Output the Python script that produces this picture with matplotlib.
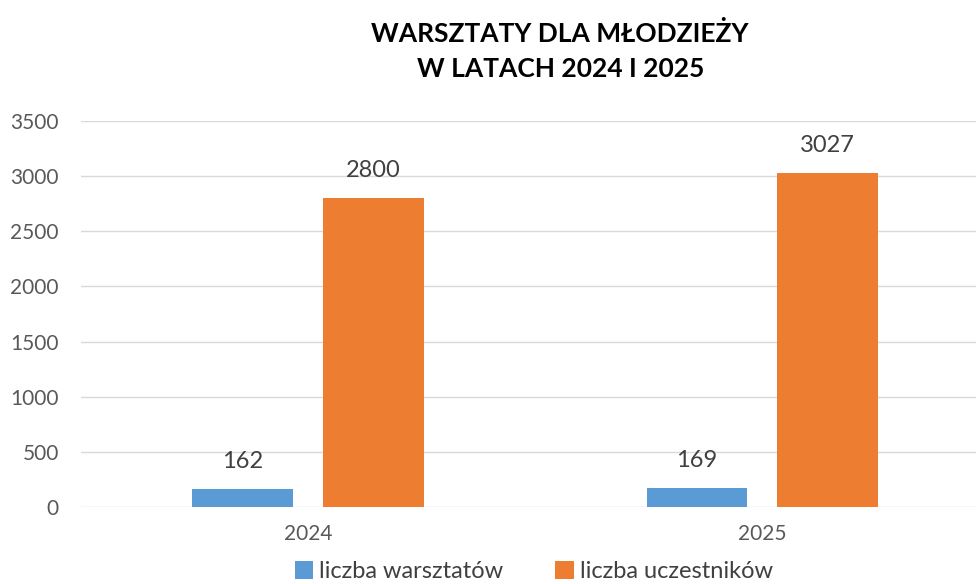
import matplotlib.pyplot as plt
import numpy as np

plt.rcParams['font.family'] = ['Lato', 'DejaVu Sans']

# Data
years = ['2024', '2025']
warsztaty = [162, 169]
uczestnicy = [2800, 3027]
series_names = ['liczba warsztatów', 'liczba uczestników']
colors = ['#5B9BD5', '#ED7D31']

fig = plt.figure(figsize=(9.76, 5.84), dpi=100)
ax = fig.add_axes([0.083, 0.1318, 0.917, 0.661])

x = np.arange(len(years))
w = 0.222
off = 0.1435
bars1 = ax.bar(x - off, warsztaty, w, color=colors[0], label=series_names[0], zorder=3)
bars2 = ax.bar(x + off, uczestnicy, w, color=colors[1], label=series_names[1], zorder=3)

# data labels
for bars in (bars1, bars2):
    for b in bars:
        ax.annotate(f'{int(b.get_height())}', (b.get_x() + b.get_width() / 2, b.get_height()),
                    xytext=(0, 20), textcoords='offset points', ha='center', va='center',
                    fontsize=17, color='#404040')

ax.set_xlim(-0.5, 1.471)
ax.set_ylim(0, 3500)
ax.set_yticks(range(0, 3501, 500))
ax.set_xticks(x)
ax.set_xticklabels(years)
ax.tick_params(axis='both', length=0, labelsize=15, labelcolor='#595959')
ax.tick_params(axis='y', pad=16)
ax.tick_params(axis='x', pad=12)
ax.grid(axis='y', color='#D9D9D9', linewidth=1, zorder=0)
for s in ax.spines.values():
    s.set_visible(False)

fig.text(0.574, 0.913, 'WARSZTATY DLA MŁODZIEŻY\nW LATACH 2024 I 2025', ha='center', va='center',
         fontsize=19, fontweight='bold', linespacing=1.55)

fig.legend(loc='center', bbox_to_anchor=(0.547, 0.022), ncol=2, frameon=False,
           fontsize=17, handlelength=0.8, handleheight=0.8, columnspacing=2.2,
           handletextpad=0.25, labelcolor='#404040', borderpad=0.2)

plt.savefig('out.png', dpi=100)
